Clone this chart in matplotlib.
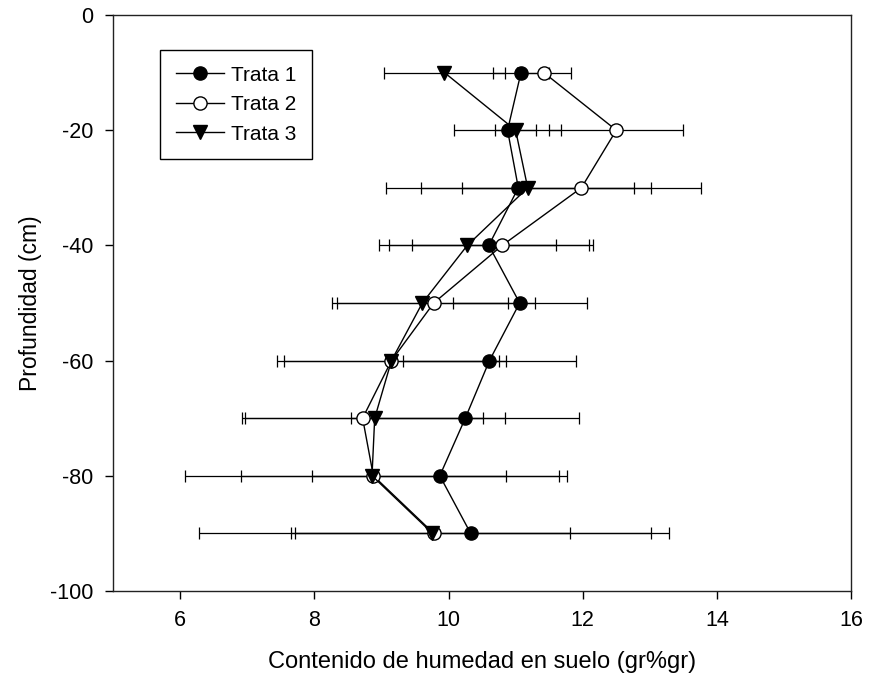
import matplotlib
matplotlib.use('Agg')
import matplotlib.pyplot as plt

plt.rcParams['font.family'] = ['Liberation Sans', 'DejaVu Sans']
plt.rcParams['axes.unicode_minus'] = False

profundidad = [-10, -20, -30, -40, -50, -60, -70, -80, -90]

trata1 = [11.08, 10.88, 11.04, 10.60, 11.06, 10.61, 10.25, 9.87, 10.33]
trata1_err = [0.42, 0.80, 1.97, 1.49, 1.00, 1.29, 1.70, 1.90, 2.68]

trata2 = [11.42, 12.50, 11.98, 10.80, 9.78, 9.15, 8.72, 8.88, 9.78]
trata2_err = [0.40, 1.00, 1.78, 1.35, 1.51, 1.70, 1.80, 1.97, 3.50]

trata3 = [9.94, 11.00, 11.18, 10.28, 9.61, 9.15, 8.90, 8.86, 9.76]
trata3_err = [0.90, 0.30, 1.59, 1.32, 1.27, 1.60, 1.94, 2.78, 2.05]

x_ticks = [6, 8, 10, 12, 14, 16]
y_ticks = [0, -20, -40, -60, -80, -100]

fig = plt.figure(figsize=(8.73, 6.92), dpi=100)
ax = fig.add_axes([0.1294, 0.146, 0.8456, 0.8323])

series = [
    (trata1, trata1_err, 'Trata 1', 'o', 'black'),
    (trata2, trata2_err, 'Trata 2', 'o', 'white'),
    (trata3, trata3_err, 'Trata 3', 'v', 'black'),
]

for valores, errores, nombre, marcador, relleno in series:
    ax.errorbar(valores, profundidad, xerr=errores, fmt='none', ecolor='black',
                elinewidth=0.9, capsize=4.5, capthick=0.9, zorder=2)
    ax.plot(valores, profundidad, color='black', linewidth=1.0,
            marker=marcador, markersize=9.5, markerfacecolor=relleno,
            markeredgecolor='black', markeredgewidth=1.0, label=nombre, zorder=3)

ax.set_xlim(5, 16)
ax.set_ylim(-100, 0)
ax.set_xticks(x_ticks)
ax.set_yticks(y_ticks)
ax.tick_params(direction='out', length=6, width=1, labelsize=15.5, pad=8,
               top=False, right=False)
for sp in ax.spines.values():
    sp.set_linewidth(1.0)
    sp.set_color('#222222')

ax.set_xlabel('Contenido de humedad en suelo (gr%gr)', fontsize=17, labelpad=14)
ax.set_ylabel('Profundidad (cm)', fontsize=16.5, labelpad=6)

leg = ax.legend(loc='upper left', bbox_to_anchor=(0.064, 0.939), fontsize=15,
                frameon=True, fancybox=False, edgecolor='black', framealpha=1,
                handlelength=2.3, handletextpad=0.35, borderpad=0.75,
                labelspacing=0.5, borderaxespad=0)
leg.get_frame().set_linewidth(1.0)

plt.savefig('out.png', dpi=100)
plt.close()
